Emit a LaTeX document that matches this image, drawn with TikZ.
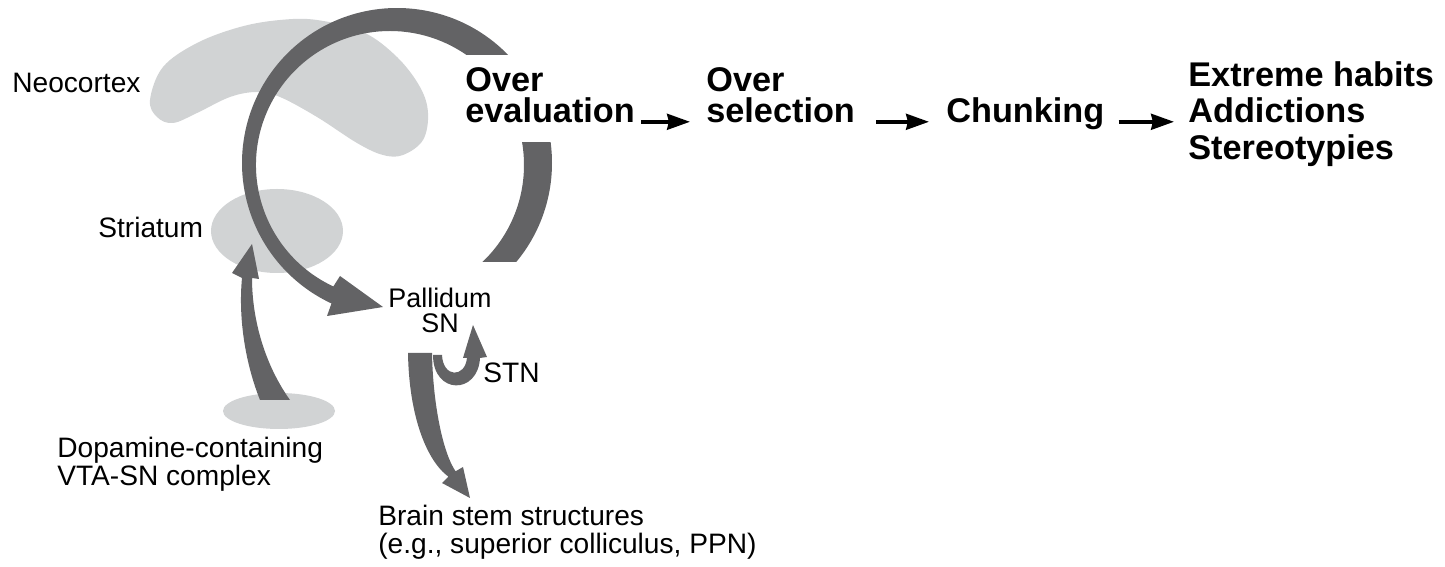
\documentclass[tikz,border=0pt]{standalone}
\usepackage{fontspec}
\setmainfont{Liberation Sans}
\usetikzlibrary{arrows.meta,calc}
\definecolor{regiongray}{RGB}{209,211,212}
\definecolor{pathgray}{RGB}{99,99,101}
\begin{document}
\begin{tikzpicture}[scale=0.2]
    \tikzstyle{every node}+=[inner sep=0pt, anchor=base west]
    \tikzstyle{lbl}=[font=\fontsize{16}{14}\selectfont]
    \tikzstyle{stage}=[font=\fontsize{19.5}{23}\selectfont\bfseries]
    \tikzstyle{flow}=[black, line width=2pt, -{Stealth[length=13pt,width=9pt,inset=1pt]}]
    \useasboundingbox (0,0) rectangle (144.5,-56.7);
    % brain regions
    \fill [regiongray] plot [smooth cycle, tension=0.6] coordinates {(15.0,-10.0) (16.3,-6.7) (19.7,-4.3) (24.0,-2.7) (28.0,-2.0) (31.7,-2.0) (36.3,-3.2) (39.7,-5.7) (42.0,-8.7) (42.8,-11.3) (42.3,-14.0) (40.3,-15.5) (38.3,-15.5) (35.7,-14.3) (31.7,-11.7) (28.0,-9.7) (25.7,-9.2) (23.0,-9.7) (19.7,-11.3) (17.3,-12.3) (15.7,-11.7)};
    \fill [regiongray] (27.7,-23.1) ellipse (6.6 and 4.2);
    \fill [regiongray] (27.9,-41.1) ellipse (5.6 and 1.8);
    % loop through the basal ganglia
    \coordinate (o1) at (39.7,-16.3);
    \coordinate (o2) at (39.0,-16.5);
    \fill [pathgray] ($(o1)+(44.2:15.5)$) arc [start angle=44.2, end angle=245, radius=15.5]
        -- (32.7,-31.6) -- (38.3,-30.7) -- (34.0,-27.6)
        -- ($(o2)+(245:13.4)$) arc [start angle=245, end angle=55.2, radius=13.4] -- cycle;
    \begin{scope}
        \clip (40,-14.3) rectangle (58,-26.2);
        \fill [pathgray, even odd rule] (o1) circle (15.5) (o2) circle (13.4);
    \end{scope}
    % dopamine input
    \fill [pathgray] (26.0,-40.0) .. controls (24.6,-36.5) and (23.8,-32.0) .. (24.2,-27.8)
        -- (23.2,-27.3) -- (25.2,-24.4) -- (25.9,-27.9) -- (25.2,-27.8)
        .. controls (25.2,-32.0) and (26.5,-36.5) .. (29.0,-40.0) -- cycle;
    % output to brain stem
    \fill [pathgray] (40.8,-35.3) .. controls (40.9,-41.5) and (42.6,-46.0) .. (44.84,-47.67)
        -- (44.2,-48.3) -- (47.0,-49.8) -- (46.3,-46.7) -- (45.56,-47.13)
        .. controls (44.3,-45.3) and (43.3,-40.5) .. (43.2,-35.3) -- cycle;
    % STN loop
    \fill [pathgray] (43.3,-35.5) .. controls (43.3,-39.5) and (47.8,-39.5) .. (48.0,-35.8)
        -- (48.7,-35.7) -- (47.3,-32.5) -- (46.3,-35.8) -- (46.7,-35.8)
        .. controls (46.5,-37.8) and (44.3,-37.8) .. (44.2,-35.5) -- cycle;
    % labels
    \node [lbl] (neo) at (1.2,-9.3) {Neocortex};
    \node [lbl] (str) at (9.8,-23.8) {Striatum};
    \node [lbl, font=\fontsize{15.3}{14.3}\selectfont, align=center, anchor=north] (pal) at (44.0,-28.8) {Pallidum\\SN};
    \node [lbl] (stn) at (48.3,-38.3) {STN};
    \node [lbl] (vta1) at (5.7,-45.8) {Dopamine-containing};
    \node [lbl] (vta2) at (5.7,-48.6) {VTA-SN complex};
    \node [lbl] (bs1) at (37.8,-52.6) {Brain stem structures};
    \node [lbl] (bs2) at (37.8,-55.3) {(e.g., superior colliculus, PPN)};
    % stages
    \node [stage] (ev1) at (46.5,-9.2) {Over};
    \node [stage] (ev2) at (46.5,-12.3) {evaluation};
    \node [stage] (se1) at (70.6,-9.2) {Over};
    \node [stage] (se2) at (70.6,-12.3) {selection};
    \node [stage] (ch) at (94.6,-12.3) {Chunking};
    \node [stage] (ex1) at (118.8,-8.7) {Extreme habits};
    \node [stage] (ex2) at (118.8,-12.3) {Addictions};
    \node [stage] (ex3) at (118.8,-16.0) {Stereotypies};
    \draw [flow, shorten <=1.2mm, shorten >=3.2mm] ([yshift=1.2mm]ev2.base east) -- ([yshift=1.2mm]se2.base west);
    \draw [flow, shorten <=4.2mm, shorten >=3.4mm] ([yshift=1.2mm]se2.base east) -- ([yshift=1.2mm]ch.base west);
    \draw [flow, shorten <=2.8mm, shorten >=2.8mm] ([yshift=1.2mm]ch.base east) -- ([yshift=1.2mm]ex2.base west);
\end{tikzpicture}
\end{document}
